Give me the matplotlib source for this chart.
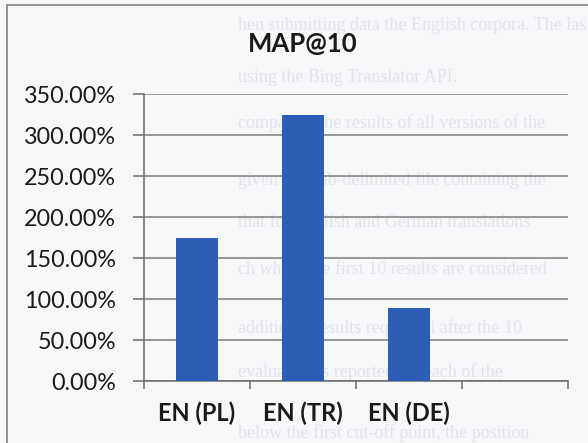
import matplotlib
matplotlib.use("Agg")
import matplotlib.pyplot as plt
from matplotlib.patches import Rectangle
from matplotlib.ticker import FuncFormatter

# Chart data
categories = ["EN (PL)", "EN (TR)", "EN (DE)"]
map_at_10 = [1.742, 3.248, 0.888]
y_ticks = [0.0, 0.5, 1.0, 1.5, 2.0, 2.5, 3.0, 3.5]
title = "MAP@10"

# Page text showing through from the printed sheet
page_lines = [
    "hen submitting data the English corpora. The las",
    "using the Bing Translator API.",
    "comparing the results of all versions of the",
    "given as a tab-delimited file containing the",
    "that for English and German translations",
    "ch where the first 10 results are considered",
    "additional results requested after the 10",
    "evaluation is reported for each of the",
    "below the first cut-off point, the position",
]
page_line_y = [25, 77, 123, 180, 222, 270, 328, 372, 433]

W, H = 588, 443
DPI = 100
BG = "#f6f7f9"
fig = plt.figure(figsize=(W / DPI, H / DPI), dpi=DPI, facecolor=BG)

# faint show-through text (figure pixel coordinates)
for txt, yy in zip(page_lines, page_line_y):
    fig.text(238 / W, 1 - yy / H, txt, fontsize=13, family="Liberation Serif",
             color="#e3e4e7", ha="left", va="center", zorder=-2)

# chart frame
fig.patches.append(Rectangle((7 / W, -0.1), 1.2, 1 - 5 / H + 0.1,
                             transform=fig.transFigure, fill=False,
                             edgecolor="#8a8a8a", linewidth=1.3, zorder=-1))

ax_left, ax_right = 144 / W, 568 / W
ax_bottom, ax_top = 1 - 381 / H, 1 - 94.3 / H
ax = fig.add_axes([ax_left, ax_bottom, ax_right - ax_left, ax_top - ax_bottom])
ax.patch.set_alpha(0)
ax.set_zorder(1)

n_slots = len(categories) + 1
positions = [i + 0.5 for i in range(len(categories))]
ax.bar(positions, map_at_10, width=0.4, color="#2d5db4", zorder=3)

ax.set_xlim(0, n_slots)
ax.set_ylim(0, 3.5)
ax.set_yticks(y_ticks)
ax.yaxis.set_major_formatter(FuncFormatter(lambda v, p: f"{v * 100:.2f}%"))
ax.grid(axis="y", color="#7c7c7c", linewidth=1.1, zorder=1)

ax.set_xticks(range(n_slots + 1))
ax.set_xticklabels([])
ax.set_xticks(positions, categories, minor=True)
ax.tick_params(axis="x", which="major", direction="out", length=6, width=1.1,
               color="#6a6a6a")
ax.tick_params(axis="x", which="minor", length=0, pad=15, labelsize=17,
               labelcolor="#1a1a1a")
for lab in ax.get_xticklabels(minor=True):
    lab.set_fontweight("bold")
    lab.set_family("Lato")
ax.tick_params(axis="y", direction="out", length=8, width=1.1, color="#6a6a6a",
               pad=12, labelsize=16.8, labelcolor="#1a1a1a")
for lab in ax.get_yticklabels():
    lab.set_family("Lato")

for side in ["top", "right"]:
    ax.spines[side].set_visible(False)
for side in ["left", "bottom"]:
    ax.spines[side].set_color("#6a6a6a")
    ax.spines[side].set_linewidth(1.1)

fig.text(303 / W, 1 - 44 / H, title, fontsize=18.5, fontweight="bold",
         family="Lato", color="#1a1a1a", ha="center", va="center")

fig.savefig("out.png", dpi=DPI, facecolor=BG)
